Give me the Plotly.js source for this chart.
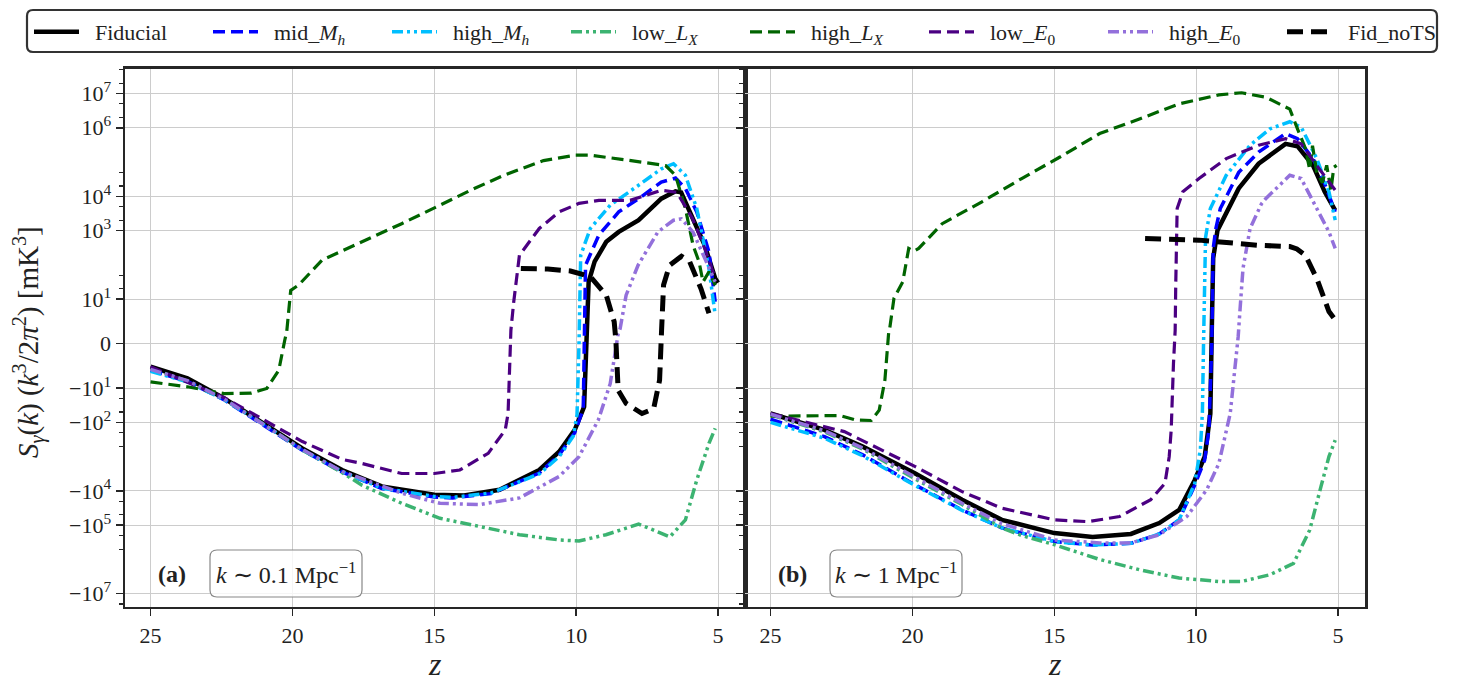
<!DOCTYPE html>
<html>
<head>
<meta charset="utf-8">
<script src="https://cdn.plot.ly/plotly-3.0.1.min.js"></script>
<style>html,body{margin:0;padding:0;background:#fff;}#chart{width:1463px;height:690px;}</style>
</head>
<body>
<div id="chart"></div>
<script>
// ---------------- DATA (z, S values in mK^3) ----------------
const seriesNames = ["Fiducial","mid_<i>M</i><sub><i>h</i></sub>","high_<i>M</i><sub><i>h</i></sub>","low_<i>L</i><sub><i>X</i></sub>","high_<i>L</i><sub><i>X</i></sub>","low_<i>E</i><sub>0</sub>","high_<i>E</i><sub>0</sub>","Fid_noTS"];

// Panel (a): k ~ 0.1 Mpc^-1
const zFidA = [25, 23.7, 22.4, 21.0, 19.65, 18.25, 16.85, 15.0, 13.95, 12.7, 11.3, 10.6, 10.05, 9.72, 9.64, 9.6, 9.56, 9.35, 8.94, 8.5, 7.8, 7.0, 6.5, 6.3, 5.9, 5.47, 5.1, 5.0];
const sFidA = [-5.2, -7.8, -20, -107, -575, -2450, -7400, -1.3e4, -1.37e4, -9300, -2450, -720, -166, -35, -1.5, 4.9, 32, 123, 470, 912, 2000, 8500, 1.4e4, 1.3e4, 2240, 370, 40, 30];
const zMidA = [25, 23.7, 22.4, 21.0, 19.65, 18.25, 16.85, 15.0, 14.35, 13.0, 11.3, 10.6, 10.05, 9.75, 9.7, 9.67, 9.2, 8.5, 7.8, 7.0, 6.5, 6.15, 5.75, 5.32, 5.1];
const sMidA = [-6, -8.5, -22, -120, -650, -2800, -8500, -1.5e4, -1.6e4, -1.2e4, -3000, -900, -200, -40, 0, 97, 740, 3500, 8500, 2.6e4, 3.4e4, 1.7e4, 3500, 240, 9.4];
const zHiMA = [25, 23.7, 22.4, 21.0, 19.65, 18.25, 16.85, 15.0, 14.35, 13.0, 11.3, 10.6, 10.1, 9.97, 9.9, 9.84, 9.5, 8.8, 7.8, 7.0, 6.57, 6.15, 5.75, 5.32, 5.1];
const sHiMA = [-6.2, -8.6, -22, -118, -640, -2750, -8300, -1.45e4, -1.55e4, -1.15e4, -3200, -1000, -250, -60, 0, 190, 1150, 5500, 2.1e4, 6.3e4, 8.9e4, 4.1e4, 4400, 78, 6.4];
const zLoLxA = [25, 23.7, 22.4, 21.0, 19.65, 18.25, 17.55, 16.15, 14.8, 13.4, 12.0, 10.6, 9.9, 8.95, 7.8, 7.27, 6.7, 6.15, 5.75, 5.32, 5.1];
const sLoLxA = [-5.6, -8.4, -21, -115, -640, -2900, -6800, -2.3e4, -6.3e4, -1.1e5, -1.9e5, -2.7e5, -2.9e5, -1.9e5, -9.3e4, -1.4e5, -2.2e5, -7e4, -4800, -410, -150];
const zHiLxA = [25, 23.7, 22.4, 21.45, 20.9, 20.48, 20.27, 20.2, 20.06, 19.78, 18.95, 17.55, 16.15, 14.8, 13.65, 12.55, 11.15, 10.05, 9.5, 8.4, 6.85, 6.5, 6.15, 5.88, 5.67, 5.53, 5.32, 5.1];
const sHiLxA = [-8.6, -9.7, -14.4, -14, -10.2, -6, 0.75, 2.7, 18, 25.7, 138, 468, 1585, 5500, 1.6e4, 4.1e4, 1.1e5, 1.58e5, 1.58e5, 1.2e5, 7.9e4, 4.1e4, 4400, 370, 123, 31.6, 63, 25];
const zLoEA = [25, 22.4, 21.0, 19.65, 18.25, 17.55, 16.15, 15.0, 14.1, 13.1, 12.5, 12.4, 12.3, 12.2, 12.0, 11.3, 10.6, 9.9, 9.2, 8.1, 7.0, 6.45, 5.9, 5.47, 5.1];
const sLoEA = [-5.2, -19, -85, -363, -1200, -1585, -3100, -3100, -2450, -800, -166, -55, 3, 9.4, 190, 1150, 3500, 6200, 7600, 7600, 1.5e4, 1.3e4, 2240, 300, 40];
const zHiEA = [25, 23.7, 22.4, 21.0, 19.65, 18.25, 16.15, 14.8, 13.4, 12.0, 10.6, 9.9, 9.22, 8.8, 8.52, 8.45, 8.24, 7.82, 7.12, 6.57, 6.29, 5.88, 5.47, 5.1];
const sHiEA = [-5.8, -8.3, -21, -115, -620, -2700, -1.17e4, -2.3e4, -2.5e4, -1.6e4, -3800, -1000, -85, -9, 2.2, 3.4, 13, 97, 912, 2000, 2200, 900, 155, 32];
const zNoTSA = [11.95, 11.0, 10.2, 9.5, 8.94, 8.66, 8.6, 8.52, 8.24, 7.68, 7.27, 7.06, 6.99, 6.92, 6.71, 6.29, 6.0, 5.6, 5.32];
const sNoTSA = [78, 75, 66, 45, 13, 4.9, 0.7, -11.5, -28, -55, -40, -8.2, 3, 25.7, 97, 178, 123, 20, 6.8];

// Panel (b): k ~ 1 Mpc^-1
const zFidB = [25, 23.1, 21.75, 19.9, 18.25, 16.85, 15.0, 13.65, 12.3, 11.3, 10.6, 10.05, 9.7, 9.5, 9.45, 9.4, 9.25, 8.5, 7.8, 6.85, 6.43, 5.88, 5.47, 5.1];
const sFidB = [-55, -166, -510, -3100, -1.8e4, -7e4, -1.7e5, -2.2e5, -1.8e5, -8.7e4, -3.6e4, -4800, -1000, -55, 3, 155, 1000, 1.7e4, 8.9e4, 3.4e5, 2.9e5, 7.9e4, 1.35e4, 3900];
const zMidB = [25, 23.1, 21.75, 19.9, 18.25, 16.85, 15.0, 13.65, 12.3, 11.3, 10.6, 10.05, 9.7, 9.55, 9.45, 9.4, 9.3, 9.15, 8.5, 7.8, 6.85, 6.43, 5.88, 5.47, 5.1];
const sMidB = [-81, -260, -890, -6700, -3.6e4, -1.2e5, -3e5, -3.8e5, -3.4e5, -1.8e5, -7e4, -6700, -1260, -166, 0, 300, 1200, 4400, 5e4, 1.95e5, 6.8e5, 4.8e5, 1.26e5, 2.3e4, 3500];
const zHiMB = [25, 23.1, 21.75, 19.9, 18.25, 16.85, 15.0, 13.65, 12.3, 11.3, 10.6, 10.05, 9.85, 9.78, 9.74, 9.67, 9.5, 8.94, 8.1, 7.4, 6.7, 6.3, 5.75, 5.32, 5.1];
const sHiMB = [-100, -290, -950, -7000, -3.7e4, -1.2e5, -3e5, -3.8e5, -3.4e5, -1.8e5, -7e4, -6000, -600, -50, 0, 620, 4400, 4.1e4, 3.1e5, 9.3e5, 1.5e6, 1.05e6, 1.26e5, 1.35e4, 2000];
const zLoLxB = [25, 23.1, 21.75, 19.9, 18.25, 16.85, 16.15, 15.0, 13.4, 12.0, 10.6, 9.2, 8.4, 7.4, 6.57, 6.0, 5.6, 5.32, 5.1];
const sLoLxB = [-60, -190, -600, -4500, -2.5e4, -1.2e5, -2e5, -3.7e5, -1e6, -2e6, -3.5e6, -4.4e6, -4.4e6, -2.8e6, -1.3e6, -1.4e5, -7400, -1000, -330];
const zHiLxB = [25, 23.8, 22.55, 22.0, 21.45, 21.17, 20.97, 20.83, 20.8, 20.65, 20.34, 20.13, 19.95, 19.78, 18.95, 17.55, 16.15, 14.8, 13.4, 12.0, 10.6, 9.2, 8.4, 7.55, 6.7, 6.43, 6.15, 6.0, 5.9, 5.75, 5.55, 5.4, 5.25, 5.15, 5.05];
const sHiLxB = [-66, -63, -63, -85, -88, -44, -8.2, 3, 3.4, 10.5, 32, 300, 250, 300, 1585, 6900, 3.3e4, 1.4e5, 6.8e5, 1.8e6, 5e6, 9.1e6, 1.05e7, 7.8e6, 3.5e6, 9.3e5, 2.5e5, 6e4, 3e5, 5e4, 2.5e4, 8e4, 1.5e4, 7e4, 8e4];
const zLoEB = [25, 22.4, 19.9, 18.25, 16.85, 15.0, 13.8, 12.7, 11.6, 11.1, 10.95, 10.88, 10.8, 10.74, 10.72, 10.67, 10.47, 9.9, 8.94, 7.8, 6.85, 6.3, 5.75, 5.1];
const sLoEB = [-55, -186, -1950, -1.05e4, -3.2e4, -7e4, -7.9e4, -5.6e4, -1.8e4, -6000, -1000, -166, -4.5, 3, 25.7, 4400, 1.35e4, 3.3e4, 1.26e5, 3.1e5, 4.8e5, 3.4e5, 7.9e4, 1.5e4];
const zHiEB = [25, 23.1, 21.75, 19.9, 18.25, 16.85, 15.0, 13.4, 12.3, 11.3, 10.33, 9.63, 9.2, 8.8, 8.52, 8.45, 8.35, 8.1, 7.7, 7.55, 6.7, 6.3, 5.75, 5.32, 5.1];
const sHiEB = [-58, -175, -560, -4000, -2.3e4, -9e4, -2.7e5, -3.3e5, -3.3e5, -1.9e5, -5.6e4, -9300, -1585, -55, 1.5, 8, 78, 1150, 6000, 8500, 4.1e4, 3.3e4, 4400, 912, 300];
const zNoTSB = [11.8, 9.9, 7.8, 6.7, 6.45, 6.15, 5.75, 5.32, 5.1];
const sNoTSB = [590, 525, 370, 340, 290, 190, 40, 7.2, 5.3];

// Axis ticks
const xTicks = [25, 20, 15, 10, 5];
const yMajorVals = [1e7, 1e6, 1e4, 1e3, 10, 0, -10, -100, -1e4, -1e5, -1e7];
const yMajorText = ["10<sup>7</sup>","10<sup>6</sup>","10<sup>4</sup>","10<sup>3</sup>","10<sup>1</sup>","0","\u221210<sup>1</sup>","\u221210<sup>2</sup>","\u221210<sup>4</sup>","\u221210<sup>5</sup>","\u221210<sup>7</sup>"];
const yMinorVals = [5e7, 2e7, 5e6, 2e6, 5e4, 2e4, 5e3, 2e3, 50, 20, -20, -50, -200, -500, -2e4, -5e4, -2e5, -5e5, -2e7];

// ---------------- symlog transform (linthresh 10) ----------------
const LIN = 1.3;
function symT(v){ const a = Math.abs(v); if (a <= 10) return v/10*LIN; return Math.sign(v)*(LIN + Math.log10(a/10)); }
const T = arr => arr.map(symT);

// ---------------- styles ----------------
const FONT = "Liberation Serif";
const GAP = "\u2002";
const styles = [
  {color:"#000000", width:4.5, dash:"solid"},
  {color:"#0000ff", width:3.5, dash:"12px,6px"},
  {color:"#00bfff", width:3.5, dash:"11px,4px,3px,4px,3px,4px"},
  {color:"#3cb371", width:3.5, dash:"11px,4px,3px,4px,3px,4px"},
  {color:"#006400", width:3.2, dash:"12px,6px"},
  {color:"#4b0082", width:3.2, dash:"12px,6px"},
  {color:"#9370db", width:3.5, dash:"11px,4px,3px,4px,3px,4px"},
  {color:"#000000", width:5, dash:"16px,8px"}
];
const panelA = [[zFidA,sFidA],[zMidA,sMidA],[zHiMA,sHiMA],[zLoLxA,sLoLxA],[zHiLxA,sHiLxA],[zLoEA,sLoEA],[zHiEA,sHiEA],[zNoTSA,sNoTSA]];
const panelB = [[zFidB,sFidB],[zMidB,sMidB],[zHiMB,sHiMB],[zLoLxB,sLoLxB],[zHiLxB,sHiLxB],[zLoEB,sLoEB],[zHiEB,sHiEB],[zNoTSB,sNoTSB]];

const traces = [];
panelA.forEach((p,i)=>traces.push({x:p[0], y:T(p[1]), xaxis:"x", yaxis:"y", mode:"lines", name:GAP+seriesNames[i], legendgroup:"g"+i, showlegend:true, line:styles[i]}));
panelB.forEach((p,i)=>traces.push({x:p[0], y:T(p[1]), xaxis:"x2", yaxis:"y2", mode:"lines", name:GAP+seriesNames[i], legendgroup:"g"+i, showlegend:false, line:styles[i]}));

// geometry (pixels -> paper)
const W = 1463, H = 690;
const px = v => v/W, py = v => 1 - v/H;
function roundRect(x0,y0,x1,y1,r){
  const rx=r/W, ry=r/H, X0=px(x0), X1=px(x1), Y0=py(y0), Y1=py(y1);
  return `M${X0+rx},${Y0} L${X1-rx},${Y0} Q${X1},${Y0} ${X1},${Y0-ry} L${X1},${Y1+ry} Q${X1},${Y1} ${X1-rx},${Y1} L${X0+rx},${Y1} Q${X0},${Y1} ${X0},${Y1+ry} L${X0},${Y0-ry} Q${X0},${Y0} ${X0+rx},${Y0} Z`;
}

const axisCommon = {
  range:[25.9, 4.05], tickmode:"array", tickvals:xTicks, ticktext:xTicks.map(String),
  ticks:"outside", ticklen:7, tickwidth:1.5, tickcolor:"#262626",
  showline:true, mirror:true, linewidth:2.5, linecolor:"#262626",
  showgrid:true, gridcolor:"#cccccc", gridwidth:1, zeroline:false,
  tickfont:{family:FONT, size:22, color:"#222"}, fixedrange:true
};
const yCommon = {
  range:[-7.68, 8.03], domain:[py(606.7), py(68.5)], tickmode:"array", tickvals:T(yMajorVals), ticktext:yMajorText,
  ticks:"outside", ticklen:7, tickwidth:1.5, tickcolor:"#262626",
  minor:{tickmode:"array", tickvals:T(yMinorVals), ticks:"outside", ticklen:4, tickwidth:1.2, tickcolor:"#262626", showgrid:false},
  showline:true, mirror:true, linewidth:2.5, linecolor:"#262626",
  showgrid:true, gridcolor:"#cccccc", gridwidth:1, zeroline:false,
  tickfont:{family:FONT, size:22, color:"#222"}, fixedrange:true
};

function ann(x, y, text, size, extra){
  return Object.assign({xref:"paper", yref:"paper", x:px(x), y:py(y), text:text, showarrow:false,
    xanchor:"center", yanchor:"middle", font:{family:FONT, size:size, color:"#222"}}, extra||{});
}

const layout = {
  width:W, height:H, margin:{l:0,r:0,t:0,b:0}, paper_bgcolor:"#fff", plot_bgcolor:"#fff",
  font:{family:FONT, color:"#222"},
  showlegend:true,
  xaxis: Object.assign({}, axisCommon, {domain:[px(125), px(745)], anchor:"y"}),
  xaxis2: Object.assign({}, axisCommon, {domain:[px(745), px(1365)], anchor:"y2"}),
  yaxis: Object.assign({}, yCommon, {anchor:"x"}),
  yaxis2: Object.assign({}, yCommon, {anchor:"x2", matches:"y", showticklabels:false}),
  legend:{orientation:"h", x:px(29), y:py(11), xanchor:"left", yanchor:"top",
    bgcolor:"rgba(0,0,0,0)", borderwidth:0, font:{family:FONT, size:22, color:"#222"},
    entrywidth:119, entrywidthmode:"pixels", itemwidth:45, traceorder:"normal"},
  shapes:[
    {type:"path", xref:"paper", yref:"paper", path:roundRect(27,10,1437,52,6), line:{color:"#333", width:2.2}, fillcolor:"rgba(255,255,255,1)", layer:"below"},
    {type:"path", xref:"paper", yref:"paper", path:roundRect(210,550,362,597,7), line:{color:"#888", width:1.2}, fillcolor:"rgba(255,255,255,0.8)", layer:"above"},
    {type:"path", xref:"paper", yref:"paper", path:roundRect(830,550,962,597,7), line:{color:"#888", width:1.2}, fillcolor:"rgba(255,255,255,0.8)", layer:"above"}
  ],
  annotations:[
    ann(28, 342, "<i>S</i><sub><i>γ</i></sub>(<i>k</i>) (<i>k</i><sup>3</sup>/2<i>π</i><sup>2</sup>) [mK<sup>3</sup>]", 29, {textangle:-90}),
    ann(435, 664, "<i>z</i>", 32),
    ann(1055, 664, "<i>z</i>", 32),
    ann(172, 574, "<b>(a)</b>", 24),
    ann(792, 574, "<b>(b)</b>", 24),
    ann(286, 573, "<i>k</i> ∼ 0.1 Mpc<sup>−1</sup>", 24),
    ann(896, 573, "<i>k</i> ∼ 1 Mpc<sup>−1</sup>", 24)
  ]
};

Plotly.newPlot("chart", traces, layout, {staticPlot:true, displayModeBar:false});
</script>
</body>
</html>
